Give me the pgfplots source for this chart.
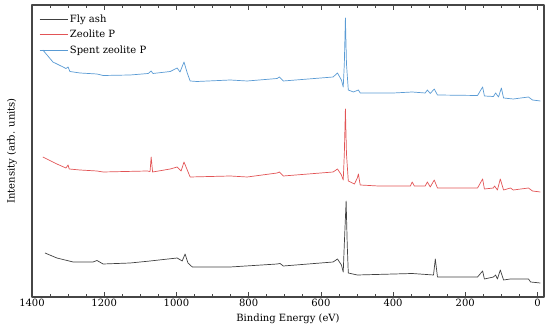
\documentclass[border=0pt]{standalone}
\usepackage{fontspec}
\setmainfont{DejaVu Serif}
\usepackage{pgfplots}
\pgfplotsset{compat=1.18}
\definecolor{cblack}{RGB}{64,64,64}
\definecolor{cred}{RGB}{226,84,86}
\definecolor{cblue}{RGB}{90,155,212}
\definecolor{caxis}{RGB}{70,70,70}
\begin{document}
\begin{tikzpicture}
\useasboundingbox (-32pt,-37pt) rectangle (518pt,297pt);
\begin{axis}[
  at={(0pt,0pt)}, anchor=south west,
  scale only axis, width=512pt, height=292pt,
  x dir=reverse, xmin=-18, xmax=1400,
  ymin=37, ymax=329,
  xtick={0,200,...,1400}, minor x tick num=3,
  ytick=\empty,
  tick align=inside,
  major tick length=5pt, minor tick length=2.8pt,
  axis line style={caxis, line width=1.1pt},
  every tick/.style={caxis, line width=0.7pt},
  /pgf/number format/assume math mode=true,
  /pgf/number format/1000 sep={},
  tick label style={font=\fontsize{10}{12}\selectfont},
  xticklabel style={yshift=1.5pt},
  xlabel={Binding Energy (eV)},
  ylabel={Intensity (arb. units)},
  label style={font=\fontsize{11}{13}\selectfont},
  every axis x label/.style={at={(axis description cs:0.5,-0.074)}, anchor=center},
  every axis y label/.style={at={(axis description cs:-0.039,0.5)}, anchor=center, rotate=90},
  legend style={at={(axis description cs:0.008,0.982)}, anchor=north west, draw=none, fill=none,
    font=\fontsize{10}{12}\selectfont, row sep=2.6pt},
  legend cell align=left,
  legend image code/.code={\path (0pt,0pt) -- (28pt,0pt); \draw[#1] (3pt,0pt) -- (25pt,0pt);},
  line join=round,
]
\addplot[cblack, line width=0.7pt] coordinates {
(1364,81) (1331,76) (1286,72) (1231,72) (1220,73.5) (1203,70) (1128,71) (1073,73)
(998,76) (984,73) (976,80) (968,71) (956,67) (851,67) (721,70) (713,70.5) (704,68)
(566,72) (554,75) (543,69) (538,62) (535,90) (530,133) (527,90) (524,61) (499,59)
(347,60.5) (288,59) (283,75) (277,57) (233,57) (166,57) (152,63) (147,55) (122,57)
(116,59) (111,55) (103,64) (94,54) (75,55) (25,55) (19,52) (-8,51)
};
\addlegendentry{Fly ash}
\addplot[cred, line width=0.7pt] coordinates {
(1370,177) (1331,170) (1306,166) (1300,169) (1297,165) (1267,164) (1220,163) (1203,162)
(1081,163) (1073,162.5) (1070,177) (1066,162) (1017,165) (998,167) (987,163) (979,172)
(970,164) (962,157) (851,158) (804,157) (721,161) (715,162) (704,158) (566,162)
(554,165) (543,159) (538,154) (535,180) (532,225) (529,180) (524,153) (507,150)
(499,156) (496,160) (491,149) (441,148) (352,148) (347,152) (341,148) (311,148)
(305,152) (297,147) (286,154) (277,146) (166,146) (152,155) (147,145) (122,146)
(119,148) (111,144) (103,155) (94,144) (75,146) (67,144) (25,146) (14,143) (-8,142)
};
\addlegendentry{Zeolite P}
\addplot[cblue, line width=0.7pt] coordinates {
(1370,284) (1342,272) (1314,267) (1306,265.5) (1300,267) (1295,262.5) (1267,261)
(1220,260) (1203,258.5) (1128,259) (1078,260.5) (1070,263) (1065,260.5) (1017,262.5)
(998,266) (990,262) (979,272) (970,261) (962,253) (943,252.5) (851,254) (804,253)
(721,255.5) (715,257) (704,253) (566,257) (554,261) (543,254) (538,247) (535,270)
(532,316) (529,270) (524,244) (510,242) (496,244) (491,241) (399,241) (347,242)
(311,241) (305,244) (297,240.5) (286,245) (277,239) (166,238.5) (152,247) (147,238)
(122,237.5) (116,241) (108,237) (100,246) (94,236) (67,235) (25,237) (14,234) (-8,233)
};
\addlegendentry{Spent zeolite P}
\end{axis}
\end{tikzpicture}
\end{document}
